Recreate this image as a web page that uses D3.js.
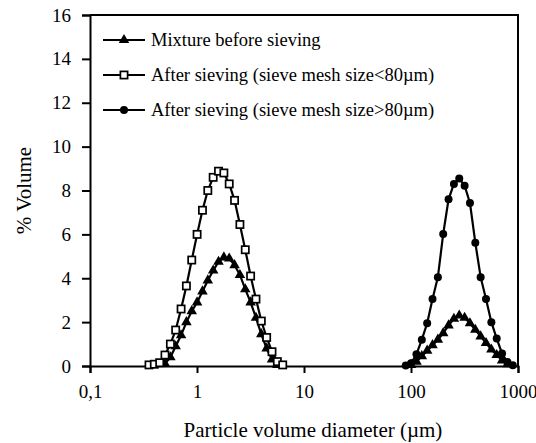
<!DOCTYPE html>
<html>
<head>
<meta charset="utf-8">
<script src="https://cdn.jsdelivr.net/npm/d3@7"></script>
<style>
    body { margin: 0; background: #fff; }
    text { font-family: "Liberation Serif", "Times New Roman", serif; }
</style>
</head>
<body>
<svg id="chart"></svg>
<script>
// particle size classes (um) and % volume per series
var mixSize = [0.502, 0.564, 0.632, 0.710, 0.796, 0.893, 1.002, 1.125, 1.262, 1.416, 1.589, 1.783, 2.000, 2.244, 2.518, 2.825, 3.170, 3.557, 3.991, 4.477, 5.024, 5.637,
    100.2, 112.5, 126.2, 141.6, 158.9, 178.3, 200.0, 224.4, 251.8, 282.5, 317.0, 355.7, 399.1, 447.7, 502.4, 563.7, 632.5, 709.6, 796.2];
var mixValue = [0.1, 0.4, 0.9, 1.4, 2.0, 2.5, 2.9, 3.4, 3.9, 4.35, 4.75, 4.95, 4.9, 4.6, 4.15, 3.5, 2.9, 2.2, 1.45, 0.8, 0.3, 0.05,
    0.05, 0.2, 0.45, 0.7, 0.95, 1.2, 1.5, 1.85, 2.15, 2.3, 2.2, 1.95, 1.65, 1.35, 1.05, 0.75, 0.5, 0.25, 0.08];

var fineSize = [0.356, 0.399, 0.448, 0.502, 0.564, 0.632, 0.710, 0.796, 0.893, 1.002, 1.125, 1.262, 1.416, 1.589, 1.783, 2.000, 2.244, 2.518, 2.825, 3.170, 3.557, 3.991, 4.477, 5.024, 5.637, 6.325];
var fineValue = [0.05, 0.08, 0.15, 0.5, 1.0, 1.64, 2.6, 3.65, 4.83, 6.0, 7.1, 8.0, 8.6, 8.88, 8.8, 8.3, 7.55, 6.45, 5.3, 4.1, 3.05, 2.05, 1.3, 0.65, 0.2, 0.05];

var coarseSize = [89.34, 100.2, 112.5, 126.2, 141.6, 158.9, 178.3, 200.0, 224.4, 251.8, 282.5, 317.0, 355.7, 399.1, 447.7, 502.4, 563.7, 632.5, 709.6, 796.2, 893.4];
var coarseValue = [0.02, 0.12, 0.53, 1.2, 1.95, 3.05, 4.05, 6.02, 7.6, 8.3, 8.55, 8.22, 7.43, 5.62, 4.05, 3.05, 2.0, 1.25, 0.57, 0.18, 0.03];

var xTicks = [0.1, 1, 10, 100, 1000];
var xTickLabels = ["0,1", "1", "10", "100", "1000"];
var yTicks = [0, 2, 4, 6, 8, 10, 12, 14, 16];

var seriesNames = ["Mixture before sieving", "After sieving (sieve mesh size<80\u00b5m)", "After sieving (sieve mesh size>80\u00b5m)"];

let width = 536, height = 443;
let margin = {top: 15, right: 18, bottom: 77, left: 90};

let svg = d3.select("#chart")
    .attr("width", width)
    .attr("height", height);

let x = d3.scaleLog().domain([0.1, 1000]).range([margin.left, width - margin.right]);
let y = d3.scaleLinear().domain([0, 16]).range([height - margin.bottom, margin.top]);

let series = [
    {name: seriesNames[0], marker: "triangle", data: mixSize.map((d, i) => ({s: d, v: mixValue[i]}))},
    {name: seriesNames[1], marker: "square", data: fineSize.map((d, i) => ({s: d, v: fineValue[i]}))},
    {name: seriesNames[2], marker: "circle", data: coarseSize.map((d, i) => ({s: d, v: coarseValue[i]}))}
];

// frame (top and right)
svg.append("path")
    .attr("d", "M" + x(0.1) + "," + y(16) + "H" + x(1000) + "V" + y(0))
    .attr("fill", "none")
    .attr("stroke", "#000")
    .attr("stroke-width", 2);

let xAxis = d3.axisBottom(x)
    .tickValues(xTicks)
    .tickSize(7)
    .tickPadding(12)
    .tickFormat((d, i) => xTickLabels[i]);

let yAxis = d3.axisLeft(y)
    .tickValues(yTicks)
    .tickSize(8)
    .tickPadding(11)
    .tickFormat(d3.format("d"));

svg.append("g")
    .attr("class", "x axis")
    .attr("transform", "translate(0," + y(0) + ")")
    .call(xAxis);

svg.append("g")
    .attr("class", "y axis")
    .attr("transform", "translate(" + x(0.1) + ",0)")
    .call(yAxis);

svg.selectAll(".axis path.domain").attr("stroke-width", 2).attr("stroke", "#000");
svg.selectAll(".axis .tick line").attr("stroke-width", 2).attr("stroke", "#000");
svg.selectAll(".axis .tick text")
    .style("font-family", "'Liberation Serif', 'Times New Roman', serif")
    .style("font-size", "19px")
    .attr("fill", "#000");

// axis titles
svg.append("text")
    .attr("transform", "translate(31," + ((y(0) + y(16)) / 2) + ") rotate(-90)")
    .style("text-anchor", "middle")
    .style("font-size", "21px")
    .text("% Volume");

svg.append("text")
    .attr("x", 313)
    .attr("y", 437)
    .style("text-anchor", "middle")
    .style("font-size", "21px")
    .text("Particle volume diameter (\u00b5m)");

let line = d3.line()
    .x(d => x(d.s))
    .y(d => y(d.v));

function drawMarker(g, type, cx, cy) {
    if (type == "triangle") {
        g.append("path")
            .attr("d", d3.symbol().type(d3.symbolTriangle).size(48)())
            .attr("transform", "translate(" + cx + "," + cy + ")")
            .attr("fill", "#000");
    } else if (type == "square") {
        g.append("rect")
            .attr("x", cx - 3.6).attr("y", cy - 3.6)
            .attr("width", 7.2).attr("height", 7.2)
            .attr("fill", "#fff")
            .attr("stroke", "#000")
            .attr("stroke-width", 1.7);
    } else {
        g.append("circle")
            .attr("cx", cx).attr("cy", cy)
            .attr("r", 4)
            .attr("fill", "#000");
    }
}

series.forEach(sr => {
    // split into separate peaks so the line does not bridge the gap
    let parts = [[]];
    sr.data.forEach((d, i) => {
        if (i > 0 && d.s / sr.data[i - 1].s > 2) parts.push([]);
        parts[parts.length - 1].push(d);
    });
    let g = svg.append("g").attr("class", "series");
    parts.forEach(p => {
        g.append("path")
            .datum(p)
            .attr("d", line)
            .attr("fill", "none")
            .attr("stroke", "#000")
            .attr("stroke-width", 2.2);
    });
    sr.data.forEach(d => drawMarker(g, sr.marker, x(d.s), y(d.v)));
});

// legend
let legend = svg.selectAll(".legend")
    .data(series)
    .enter().append("g")
    .attr("class", "legend")
    .attr("transform", (d, i) => "translate(103," + (40 + i * 35) + ")");

legend.append("line")
    .attr("x1", 0).attr("x2", 42)
    .attr("stroke", "#000")
    .attr("stroke-width", 2.2);

legend.each(function (d) { drawMarker(d3.select(this), d.marker, 21, 0); });

legend.append("text")
    .attr("x", 48)
    .attr("y", 6)
    .style("font-size", "18.5px")
    .text(d => d.name);
</script>
</body>
</html>
